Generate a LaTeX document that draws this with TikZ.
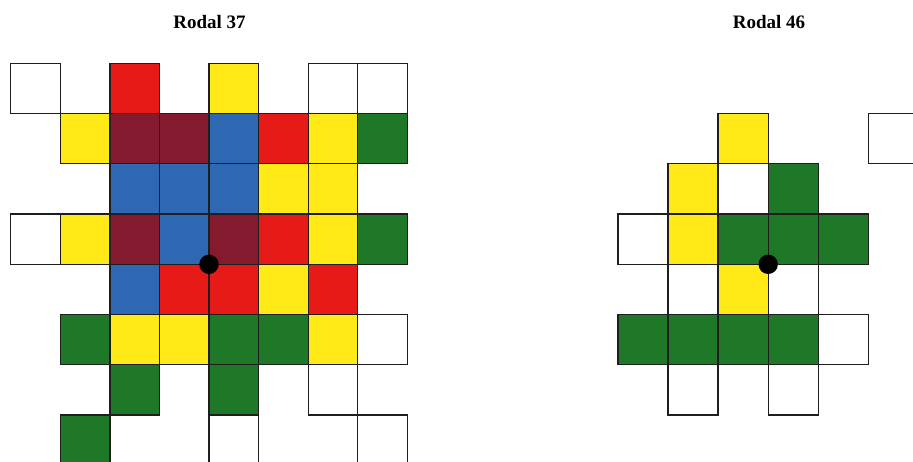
\documentclass[tikz,border=0pt]{standalone}
\usepackage{fontspec}
\setmainfont{Liberation Serif}
\definecolor{cred}{RGB}{230,26,22}
\definecolor{cmar}{RGB}{132,26,46}
\definecolor{cblu}{RGB}{46,104,178}
\definecolor{cyel}{RGB}{255,234,24}
\definecolor{cgrn}{RGB}{30,120,40}
\definecolor{cline}{RGB}{30,30,30}
\begin{document}
\begin{tikzpicture}[x=1pt,y=-1pt,
  cellline/.style={draw=cline, line width=1.3pt, line join=miter},
  titletext/.style={font=\fontsize{19}{23}\selectfont\bfseries, anchor=base, inner sep=0pt},
  centredot/.style={circle, fill=black, inner sep=0pt, minimum size=19.4pt}]
\useasboundingbox (0,0) rectangle (913,461);
\fill[white] (0,0) rectangle (913,461);
\clip (0,0) rectangle (913,461);
% titles
\node[titletext] (t37) at (209.5,28) {Rodal 37};
\node[titletext] (t46) at (769,28) {Rodal 46};
% left grid: Rodal 37
\def\lcells{0/0/white, 2/0/cred, 4/0/cyel, 6/0/white, 7/0/white,
  1/1/cyel, 2/1/cmar, 3/1/cmar, 4/1/cblu, 5/1/cred, 6/1/cyel, 7/1/cgrn,
  2/2/cblu, 3/2/cblu, 4/2/cblu, 5/2/cyel, 6/2/cyel,
  0/3/white, 1/3/cyel, 2/3/cmar, 3/3/cblu, 4/3/cmar, 5/3/cred, 6/3/cyel, 7/3/cgrn,
  2/4/cblu, 3/4/cred, 4/4/cred, 5/4/cyel, 6/4/cred,
  1/5/cgrn, 2/5/cyel, 3/5/cyel, 4/5/cgrn, 5/5/cgrn, 6/5/cyel, 7/5/white,
  2/6/cgrn, 4/6/cgrn, 6/6/white,
  1/7/cgrn, 4/7/white, 7/7/white}
\foreach \c/\r/\col in \lcells {
  \fill[\col] ({10.7+\c*49.575},{63.3+\r*50.24}) rectangle +(49.575,50.24);
}
\foreach \c/\r/\col in \lcells {
  \draw[cellline] ({10.7+\c*49.575},{63.3+\r*50.24}) rectangle +(49.575,50.24);
}
% right grid: Rodal 46
\def\rcells{2/1/cyel, 5/1/white,
  1/2/cyel, 2/2/white, 3/2/cgrn,
  0/3/white, 1/3/cyel, 2/3/cgrn, 3/3/cgrn, 4/3/cgrn,
  1/4/white, 2/4/cyel, 3/4/white,
  0/5/cgrn, 1/5/cgrn, 2/5/cgrn, 3/5/cgrn, 4/5/white,
  1/6/white, 3/6/white}
\foreach \c/\r/\col in \rcells {
  \fill[\col] ({618+\c*50.06},{63.3+\r*50.24}) rectangle +(50.06,50.24);
}
\foreach \c/\r/\col in \rcells {
  \draw[cellline] ({618+\c*50.06},{63.3+\r*50.24}) rectangle +(50.06,50.24);
}
% centre dots
\node[centredot] (dot37) at (209,264.3) {};
\node[centredot] (dot46) at (768.2,264.3) {};
\end{tikzpicture}
\end{document}
